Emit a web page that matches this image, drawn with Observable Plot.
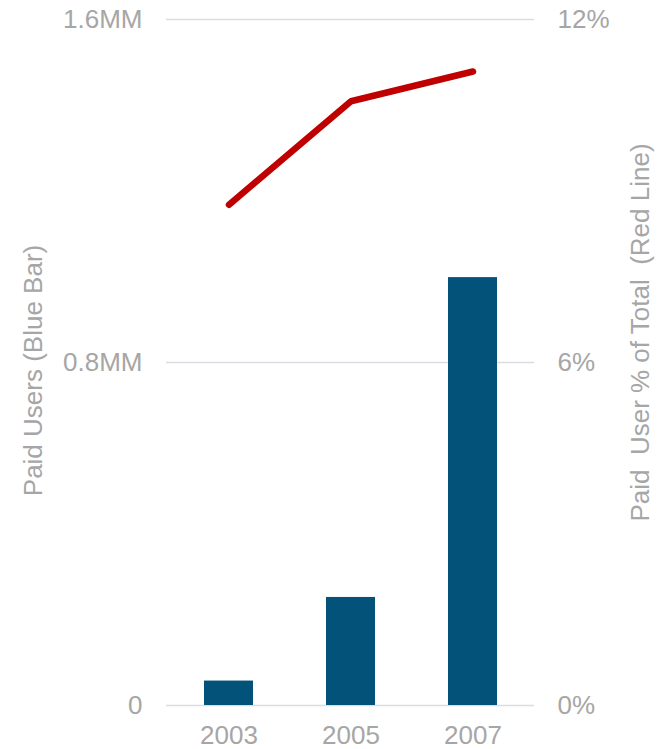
<!DOCTYPE html>
<html>
<head>
<meta charset="utf-8">
<script src="https://cdn.jsdelivr.net/npm/d3@7"></script>
<script src="https://cdn.jsdelivr.net/npm/@observablehq/plot@0.6"></script>
<style>
  html, body { margin: 0; padding: 0; background: #fff; }
  #chart svg { display: block; }
</style>
</head>
<body>
<div id="chart"></div>
<script>
const years = ["2003", "2005", "2007"];
const paidUsersMM = [0.057, 0.252, 0.998];
const paidPct = [8.76, 10.57, 11.09];
const leftTicks = [0, 0.8, 1.6];
const leftTickLabels = ["0", "0.8MM", "1.6MM"];
const rightTickLabels = ["0%", "6%", "12%"];
const leftTitle = "Paid Users (Blue Bar)";
const rightTitle = "Paid  User % of Total  (Red Line)";

const pctMax = 12, usersMax = 1.6;
const rows = years.map((y, i) => ({year: y, users: paidUsersMM[i], pct: paidPct[i]}));

const grey = "#a6a6a6";
const fs = 26;
const chart = Plot.plot({
  width: 659,
  height: 749,
  marginLeft: 166,
  marginRight: 125,
  marginTop: 19,
  marginBottom: 44,
  style: {fontFamily: "'Liberation Sans', Arial, sans-serif", fontSize: fs + "px", color: grey, background: "#fff"},
  x: {domain: years, paddingInner: 0.6, paddingOuter: 0.3},
  y: {domain: [0, usersMax]},
  marks: [
    Plot.gridY(leftTicks, {stroke: "#d9dde3", strokeOpacity: 1, strokeWidth: 1.5}),
    Plot.barY(rows, {x: "year", y: "users", fill: "#02527a"}),
    Plot.line(rows, {x: "year", y: d => d.pct / pctMax * usersMax, stroke: "#c00000", strokeWidth: 6.5, strokeLinecap: "round", strokeLinejoin: "miter"}),
    Plot.axisX({tickSize: 0, tickPadding: 20, label: null, fill: grey, fontSize: fs}),
    Plot.axisY(leftTicks, {anchor: "left", tickSize: 0, tickPadding: 24, tickFormat: (d, i) => leftTickLabels[i], fill: grey, fontSize: fs, label: null}),
    Plot.axisY(leftTicks, {anchor: "right", tickSize: 0, tickPadding: 23, tickFormat: (d, i) => rightTickLabels[i], fill: grey, fontSize: fs, label: null}),
    Plot.text([leftTitle], {frameAnchor: "left", textAnchor: "middle", rotate: -90, dx: -133, dy: 8, fill: grey, fontSize: fs}),
    Plot.text([rightTitle], {frameAnchor: "right", textAnchor: "middle", rotate: -90, dx: 106, dy: -30, fill: grey, fontSize: fs})
  ]
});
document.getElementById("chart").appendChild(chart);
</script>
</body>
</html>
